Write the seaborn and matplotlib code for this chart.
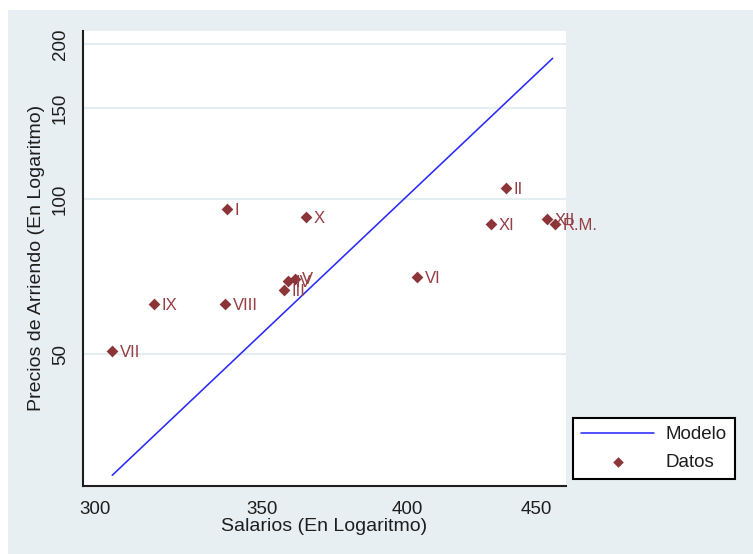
import matplotlib
matplotlib.use("Agg")
import matplotlib.pyplot as plt
import matplotlib.ticker as mticker
from matplotlib.patches import Rectangle
import seaborn as sns
import pandas as pd

# ---- data ----
regiones = ["I", "II", "III", "IV", "V", "VI", "VII", "VIII", "IX", "X", "XI", "XII", "R.M."]
salarios = [338.7, 437.7, 357.0, 358.4, 360.5, 403.6, 304.8, 338.3, 316.9, 364.2, 431.8, 454.5, 457.9]
precios = [95.7, 104.9, 66.6, 69.4, 70.1, 70.7, 50.6, 62.5, 62.5, 92.2, 89.6, 91.6, 89.5]

modelo_x = [304.9, 400.0, 457.0]
modelo_y = [29.1, 101.6, 187.6]

x_ticks = [300, 350, 400, 450]
y_ticks = [50, 100, 150, 200]
x_label = "Salarios (En Logaritmo)"
y_label = "Precios de Arriendo (En Logaritmo)"

# ---- style ----
BG = "#e8eff2"
GRID = "#e4eef1"
MARKER = "#8c3539"
TEXTC = "#953e44"
LINE = "#2a2aff"
DARK = "#1e1e1e"

sns.set_style("white")
plt.rcParams['font.family'] = ['Liberation Sans', 'DejaVu Sans']

W, H = 753, 554
fig = plt.figure(figsize=(W / 100, H / 100), dpi=100, facecolor="white")
fig.patches.append(Rectangle((8 / W, 0), 1, (H - 9.5) / H, transform=fig.transFigure,
                             facecolor=BG, edgecolor="none", zorder=-10))

left, right, top, bottom = 83.3, 565.7, 30.5, 485.5
ax = fig.add_axes([left / W, 1 - bottom / H, (right - left) / W, (bottom - top) / H])
ax.set_facecolor("white")
ax.set_xscale("log")
ax.set_yscale("log")

df_model = pd.DataFrame({"x": modelo_x, "y": modelo_y})
df_pts = pd.DataFrame({"x": salarios, "y": precios, "r": regiones})

sns.lineplot(data=df_model, x="x", y="y", ax=ax, color=LINE, lw=1.15, label="Modelo", sort=False, zorder=3)
sns.scatterplot(data=df_pts, x="x", y="y", ax=ax, marker="D", s=36, color=MARKER,
                linewidth=0, label="Datos", zorder=4)

for xv, yv, r in zip(salarios, precios, regiones):
    ax.annotate(r, (xv, yv), xytext=(5.5, -1.0), textcoords="offset points",
                ha="left", va="center", fontsize=12, color=TEXTC, zorder=5)

ax.set_xlim(296.9, 462.5)
ax.set_ylim(27.8, 212.4)

ax.xaxis.set_major_locator(mticker.FixedLocator(x_ticks))
ax.yaxis.set_major_locator(mticker.FixedLocator(y_ticks))
ax.xaxis.set_minor_locator(mticker.NullLocator())
ax.yaxis.set_minor_locator(mticker.NullLocator())
ax.set_xticks(x_ticks, labels=[str(v) for v in x_ticks])
ax.set_yticks(y_ticks, labels=[str(v) for v in y_ticks], rotation=90, va="center")

ax.tick_params(direction="out", length=6.5, width=1.2, color=DARK, labelsize=13.5,
               labelcolor=DARK, pad=4.5)
ax.tick_params(axis="y", pad=4)

for s in ["top", "right"]:
    ax.spines[s].set_visible(False)
for s in ["left", "bottom"]:
    ax.spines[s].set_color(DARK)
    ax.spines[s].set_linewidth(1.5)

ax.yaxis.grid(True, color=GRID, lw=1.5, zorder=0)
ax.xaxis.grid(False)
ax.set_axisbelow(True)

ax.set_xlabel(x_label, fontsize=14, color=DARK, labelpad=0)
ax.set_ylabel(y_label, fontsize=14, color=DARK, labelpad=5)

handles, labels = ax.get_legend_handles_labels()
if ax.get_legend() is not None:
    ax.get_legend().remove()
leg = fig.legend(handles, labels, loc="upper left", bbox_to_anchor=(573.3 / W, 1 - 418.3 / H),
                 bbox_transform=fig.transFigure, frameon=True, fancybox=False,
                 edgecolor="black", facecolor="white", framealpha=1, borderaxespad=0,
                 fontsize=13.5, handlelength=3.9, handletextpad=0.6, labelspacing=0.58,
                 borderpad=0.42, markerscale=0.9)
leg.get_frame().set_linewidth(1.5)
for t in leg.get_texts():
    t.set_color(DARK)

fig.savefig("out.png", dpi=100, facecolor=fig.get_facecolor())
